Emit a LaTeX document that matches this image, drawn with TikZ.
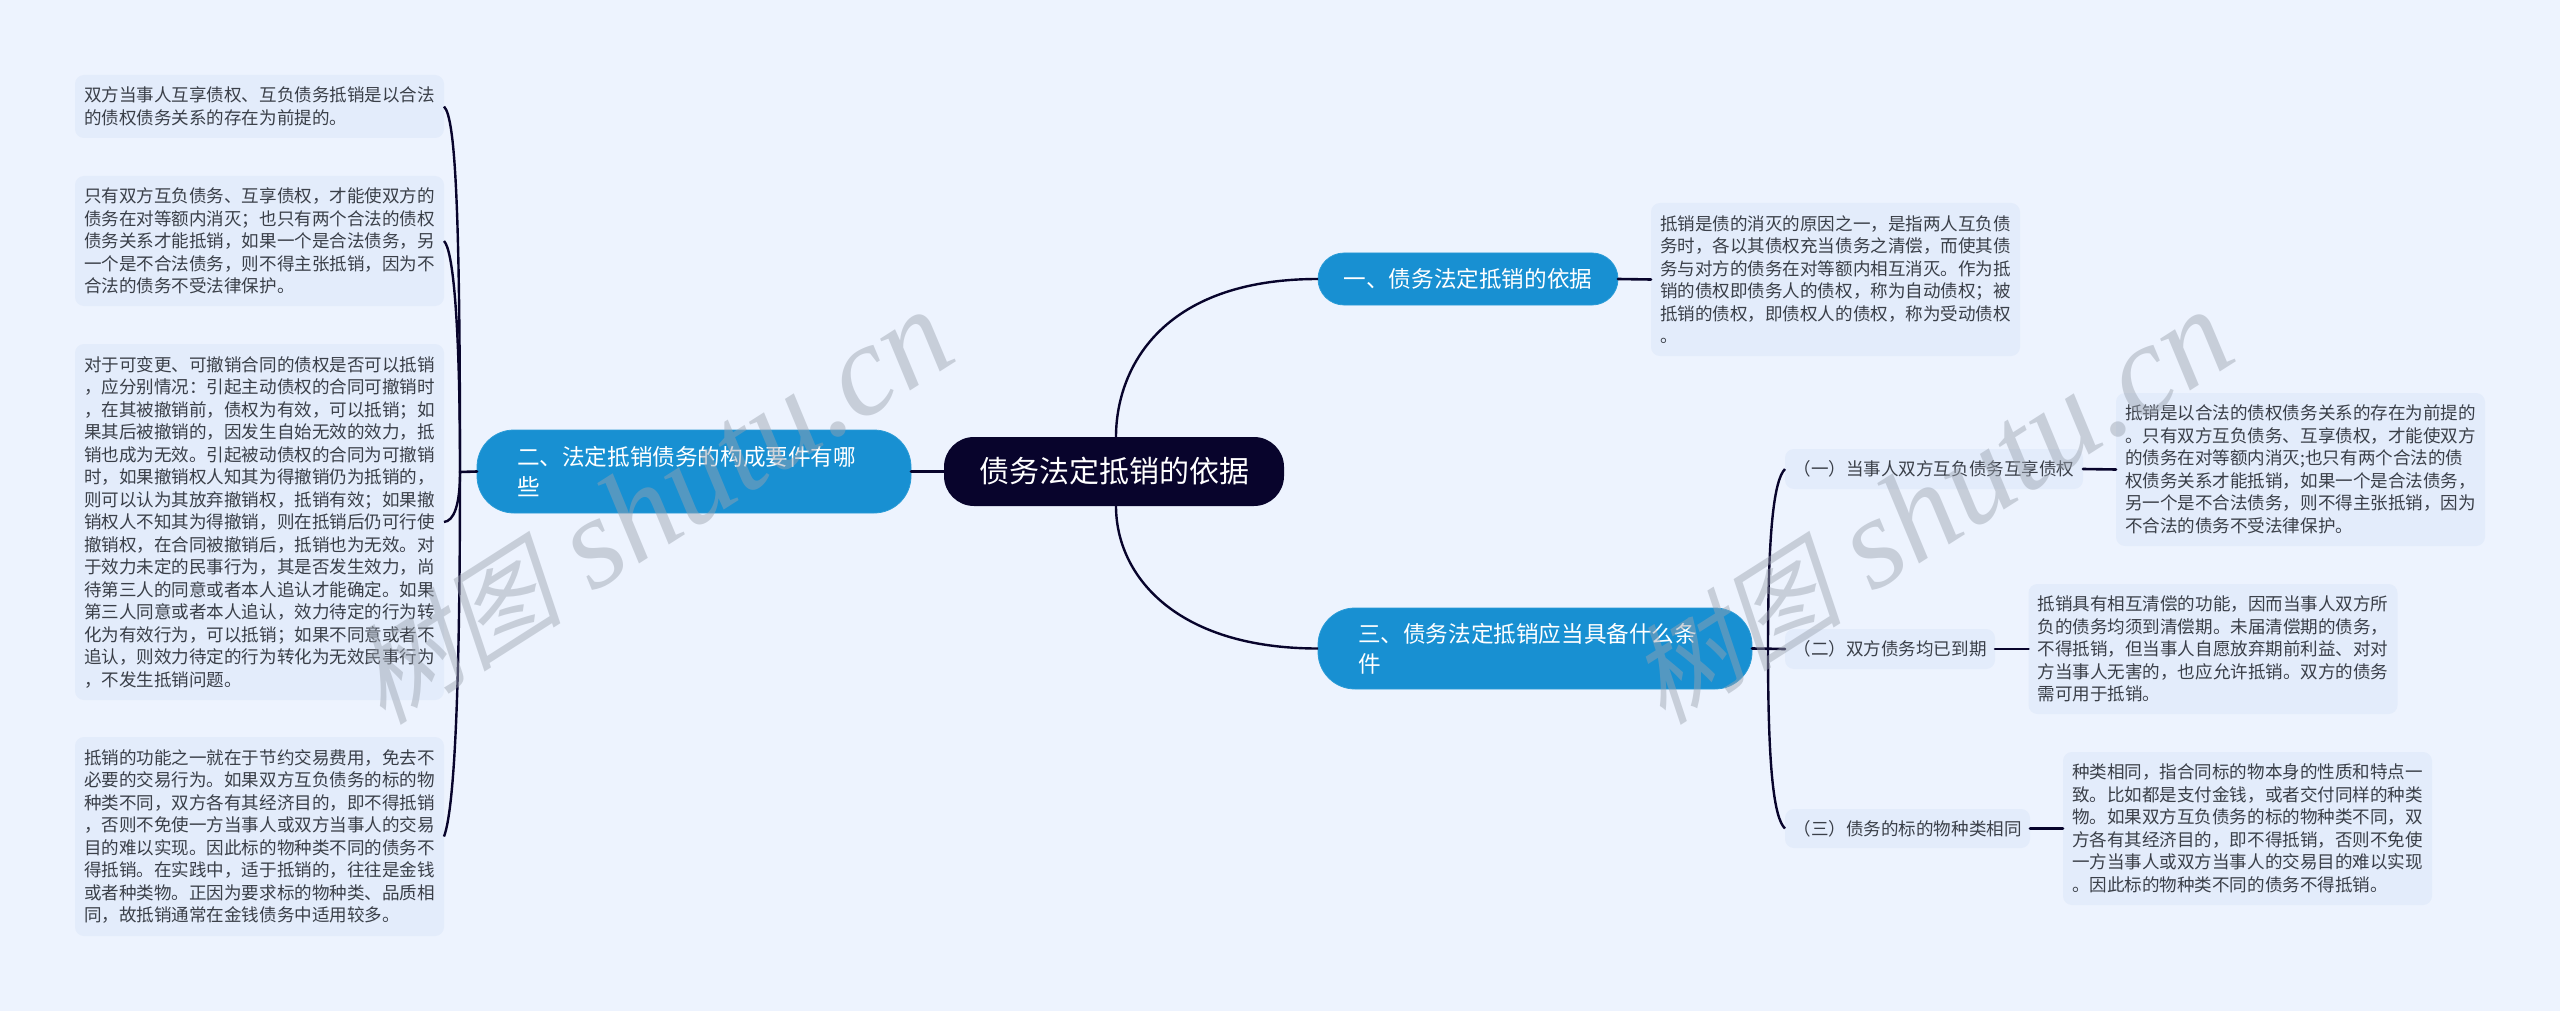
\documentclass[tikz,border=0pt]{standalone}
\usepackage{fontspec}
\setmainfont{Noto Sans CJK SC}
\newfontfamily\wmlatin{Liberation Serif}[ItalicFont=* Italic]
\newfontfamily\wmcjk{Noto Sans CJK SC}[FakeSlant=0.25]
\definecolor{bgc}{HTML}{EDF3FE}
\definecolor{boxc}{HTML}{E3ECFB}
\definecolor{bluec}{HTML}{1890D2}
\definecolor{blueb}{HTML}{2A9BD6}
\definecolor{darkc}{HTML}{08042C}
\definecolor{txtc}{HTML}{3A3F48}
\definecolor{wmc}{HTML}{9BA3AF}
\tikzset{
  x=1pt,y=-1pt,
  leafbox/.style={fill=boxc,rounded corners=9pt,inner sep=0pt,outer sep=0pt,text=txtc,align=left,
    font=\fontsize{17.55pt}{22.5pt}\selectfont},
  subbox/.style={leafbox,font=\fontsize{17.55pt}{22.5pt}\selectfont},
  mainbox/.style={fill=bluec,draw=blueb,line width=0.8pt,inner sep=0pt,outer sep=0pt,text=white,align=left,
    font=\fontsize{22.6pt}{30pt}\selectfont},
  rootbox/.style={fill=darkc,rounded corners=30pt,inner sep=0pt,outer sep=0pt,text=white,align=center,
    font=\fontsize{30pt}{40pt}\selectfont},
  link/.style={draw=darkc,line width=2.6pt,line cap=round},
  curvelink/.style={draw=darkc,line width=2.4pt},
  watermark/.style={text=wmc,opacity=0.46,rotate=32.5,inner sep=0pt,anchor=center}
}
\newcommand{\wmtext}{{\wmcjk\fontsize{108pt}{108pt}\selectfont 树图\wmlatin\itshape\fontsize{130pt}{130pt}\selectfont\ shutu.cn}}
\begin{document}
\begin{tikzpicture}
\useasboundingbox (0,0) rectangle (2560,1011);
\fill[bgc] (0,0) rectangle (2560,1011);
\coordinate (ls) at (460,472);
\coordinate (rs) at (1768,649);
% curves under nodes
\node[rootbox,minimum width=340pt,minimum height=69pt] (root) at (1114,471.5) {债务法定抵销的依据};
\node[mainbox,rounded corners=37pt,minimum width=434pt,minimum height=83pt,text width=354pt] (m2) at (694,471.5) {二、法定抵销债务的构成要件有哪\\些};
\node[mainbox,rounded corners=26pt,minimum width=300pt,minimum height=52pt,align=center] (m1) at (1468,279) {一、债务法定抵销的依据};
\node[mainbox,rounded corners=37pt,minimum width=434pt,minimum height=81pt,text width=354pt] (m3) at (1535,648.5) {三、债务法定抵销应当具备什么条\\件};
% left leaves
\node[leafbox,minimum width=369pt,minimum height=63pt,text width=351pt] (l1) at (259.5,106.5) {双方当事人互享债权、互负债务抵销是以合法\\的债权债务关系的存在为前提的。};
\node[leafbox,minimum width=369pt,minimum height=130pt,text width=351pt] (l2) at (259.5,241) {只有双方互负债务、互享债权，才能使双方的\\债务在对等额内消灭；也只有两个合法的债权\\债务关系才能抵销，如果一个是合法债务，另\\一个是不合法债务，则不得主张抵销，因为不\\合法的债务不受法律保护。};
\node[leafbox,minimum width=369pt,minimum height=356pt,text width=351pt] (l3) at (259.5,522) {对于可变更、可撤销合同的债权是否可以抵销\\，应分别情况：引起主动债权的合同可撤销时\\，在其被撤销前，债权为有效，可以抵销；如\\果其后被撤销的，因发生自始无效的效力，抵\\销也成为无效。引起被动债权的合同为可撤销\\时，如果撤销权人知其为得撤销仍为抵销的，\\则可以认为其放弃撤销权，抵销有效；如果撤\\销权人不知其为得撤销，则在抵销后仍可行使\\撤销权，在合同被撤销后，抵销也为无效。对\\于效力未定的民事行为，其是否发生效力，尚\\待第三人的同意或者本人追认才能确定。如果\\第三人同意或者本人追认，效力待定的行为转\\化为有效行为，可以抵销；如果不同意或者不\\追认，则效力待定的行为转化为无效民事行为\\，不发生抵销问题。};
\node[leafbox,minimum width=369pt,minimum height=199pt,text width=351pt] (l4) at (259.5,836.5) {抵销的功能之一就在于节约交易费用，免去不\\必要的交易行为。如果双方互负债务的标的物\\种类不同，双方各有其经济目的，即不得抵销\\，否则不免使一方当事人或双方当事人的交易\\目的难以实现。因此标的物种类不同的债务不\\得抵销。在实践中，适于抵销的，往往是金钱\\或者种类物。正因为要求标的物种类、品质相\\同，故抵销通常在金钱债务中适用较多。};
% right leaves
\node[leafbox,minimum width=369pt,minimum height=153pt,text width=351pt] (r1) at (1835.5,279.5) {抵销是债的消灭的原因之一，是指两人互负债\\务时，各以其债权充当债务之清偿，而使其债\\务与对方的债务在对等额内相互消灭。作为抵\\销的债权即债务人的债权，称为自动债权；被\\抵销的债权，即债权人的债权，称为受动债权\\。};
\node[subbox,minimum width=298pt,minimum height=40pt,text width=281pt] (s1) at (1934,469) {（一）当事人双方互负债务互享债权};
\node[subbox,minimum width=210pt,minimum height=40pt,text width=193pt] (s2) at (1890,649) {（二）双方债务均已到期};
\node[subbox,minimum width=245pt,minimum height=39pt,text width=228pt] (s3) at (1907.5,828.5) {（三）债务的标的物种类相同};
\node[leafbox,minimum width=369pt,minimum height=153pt,text width=351pt] (t1) at (2300.5,469.5) {抵销是以合法的债权债务关系的存在为前提的\\。只有双方互负债务、互享债权，才能使双方\\的债务在对等额内消灭;也只有两个合法的债\\权债务关系才能抵销，如果一个是合法债务，\\另一个是不合法债务，则不得主张抵销，因为\\不合法的债务不受法律保护。};
\node[leafbox,minimum width=369pt,minimum height=130pt,text width=351pt] (t2) at (2213,649) {抵销具有相互清偿的功能，因而当事人双方所\\负的债务均须到清偿期。未届清偿期的债务，\\不得抵销，但当事人自愿放弃期前利益、对对\\方当事人无害的，也应允许抵销。双方的债务\\需可用于抵销。};
\node[leafbox,minimum width=369pt,minimum height=153pt,text width=351pt] (t3) at (2247.5,828.5) {种类相同，指合同标的物本身的性质和特点一\\致。比如都是支付金钱，或者交付同样的种类\\物。如果双方互负债务的标的物种类不同，双\\方各有其经济目的，即不得抵销，否则不免使\\一方当事人或双方当事人的交易目的难以实现\\。因此标的物种类不同的债务不得抵销。};
% connectors
\draw[curvelink] ([xshift=2pt]root.north) .. controls (1116,370) and (1160,279) .. (m1.west);
\draw[curvelink] ([xshift=2pt]root.south) .. controls (1116,575) and (1175,648.5) .. (m3.west);
\draw[link] (m2.east) -- (root.west);
\draw[link] (m1.east) -- (r1.west);
\draw[link] (m2.west) -- (ls);
\draw[curvelink] (l1.east) .. controls (456,118) and (460,220) .. (ls);
\draw[curvelink] (l2.east) .. controls (453,250) and (460,320) .. (ls);
\draw[curvelink] (l3.east) .. controls (454,521) and (460,505) .. (ls);
\draw[curvelink] (l4.east) .. controls (454,810) and (460,700) .. (ls);
\draw[link] (m3.east) -- (s2.west);
\draw[curvelink] (s1.west) .. controls (1774,480) and (1768,530) .. (rs);
\draw[curvelink] (s3.west) .. controls (1774,818) and (1768,770) .. (rs);
\draw[link] (s1.east) -- (t1.west);
\draw[link] (s2.east) -- (t2.west);
\draw[link] (s3.east) -- (t3.west);
% watermarks
\node[watermark] (w1) at (650,508) {\wmtext};
\node[watermark] (w2) at (1930,508) {\wmtext};
\end{tikzpicture}
\end{document}
